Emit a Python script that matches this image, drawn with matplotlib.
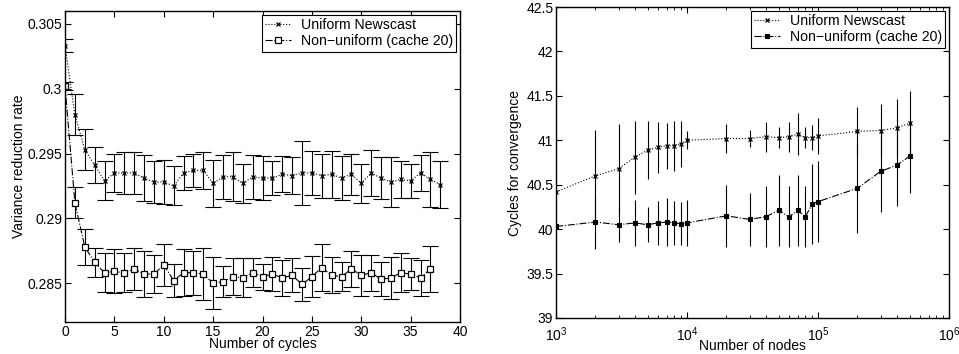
from matplotlib import pyplot as plt
from matplotlib.ticker import FixedLocator, FixedFormatter
import numpy as np

plt.rcParams['font.family'] = ['Liberation Sans', 'DejaVu Sans']
plt.rcParams['font.size'] = 10
plt.rcParams['xtick.direction'] = 'in'
plt.rcParams['ytick.direction'] = 'in'
plt.rcParams['xtick.top'] = True
plt.rcParams['ytick.right'] = True
plt.rcParams['axes.linewidth'] = 1.0

# left panel: variance reduction per cycle
cycles_u = np.arange(0, 39)
uniform_rate = [0.3033, 0.2980, 0.2953, 0.2941, 0.2929, 0.2935, 0.2935, 0.2935, 0.2931, 0.2928,
                0.2928, 0.2925, 0.2935, 0.2937, 0.2937, 0.2927, 0.2932, 0.2932, 0.2927, 0.2932,
                0.2931, 0.2931, 0.2934, 0.2933, 0.2935, 0.2935, 0.2933, 0.2934, 0.2931, 0.2934,
                0.2927, 0.2935, 0.2931, 0.2928, 0.2930, 0.2929, 0.2935, 0.2930, 0.2926]
uniform_err = [0.0005, 0.0016, 0.0016, 0.0014, 0.0015, 0.0015, 0.0016, 0.0016, 0.0018, 0.0016,
               0.0017, 0.0015, 0.0013, 0.0013, 0.0014, 0.0018, 0.0017, 0.0019, 0.0015, 0.0017,
               0.0017, 0.0013, 0.0014, 0.0014, 0.0025, 0.0017, 0.0017, 0.0018, 0.0017, 0.0016,
               0.0015, 0.0018, 0.0016, 0.0019, 0.0014, 0.0013, 0.0014, 0.0021, 0.0018]

cycles_n = np.arange(0, 38)
nonuni_rate = [0.3002, 0.2912, 0.2878, 0.2866, 0.2858, 0.2859, 0.2858, 0.2861, 0.2857, 0.2857,
               0.2864, 0.2852, 0.2858, 0.2858, 0.2857, 0.2850, 0.2851, 0.2855, 0.2854, 0.2858,
               0.2855, 0.2857, 0.2854, 0.2856, 0.2849, 0.2855, 0.2862, 0.2856, 0.2855, 0.2861,
               0.2856, 0.2858, 0.2853, 0.2854, 0.2858, 0.2857, 0.2854, 0.2861]
nonuni_err = [0.0003, 0.0012, 0.0014, 0.0011, 0.0015, 0.0017, 0.0015, 0.0016, 0.0018, 0.0015,
              0.0016, 0.0013, 0.0018, 0.0017, 0.0020, 0.0020, 0.0012, 0.0014, 0.0015, 0.0011,
              0.0010, 0.0013, 0.0014, 0.0013, 0.0013, 0.0016, 0.0018, 0.0014, 0.0011, 0.0014,
              0.0016, 0.0014, 0.0013, 0.0016, 0.0015, 0.0012, 0.0014, 0.0018]

# right panel: cycles for convergence vs network size
nodes = [1e3, 2e3, 3e3, 4e3, 5e3, 6e3, 7e3, 8e3, 9e3, 1e4,
         2e4, 3e4, 4e4, 5e4, 6e4, 7e4, 8e4, 9e4, 1e5,
         2e5, 3e5, 4e5, 5e5]
conv_uniform = [40.42, 40.60, 40.68, 40.81, 40.89, 40.92, 40.94, 40.94, 40.96, 41.00,
                41.02, 41.02, 41.04, 41.03, 41.04, 41.07, 41.03, 41.03, 41.05,
                41.10, 41.11, 41.14, 41.19]
conv_uniform_err = [0.0, 0.52, 0.50, 0.41, 0.33, 0.29, 0.26, 0.28, 0.26, 0.10,
                    0.16, 0.10, 0.17, 0.12, 0.17, 0.24, 0.12, 0.14, 0.20,
                    0.27, 0.30, 0.33, 0.37]
conv_nonuni = [40.03, 40.08, 40.05, 40.07, 40.05, 40.07, 40.08, 40.07, 40.06, 40.07,
               40.15, 40.11, 40.14, 40.21, 40.14, 40.21, 40.14, 40.28, 40.31,
               40.46, 40.65, 40.72, 40.82]
conv_nonuni_err = [0.0, 0.30, 0.20, 0.26, 0.20, 0.25, 0.27, 0.25, 0.24, 0.26,
                   0.35, 0.30, 0.34, 0.40, 0.34, 0.40, 0.34, 0.45, 0.46,
                   0.50, 0.46, 0.46, 0.41]

left_yticks = [0.285, 0.29, 0.295, 0.3, 0.305]
left_ylabels = ['0.285', '0.29', '0.295', '0.3', '0.305']
right_yticks = [39, 39.5, 40, 40.5, 41, 41.5, 42, 42.5]
right_ylabels = ['39', '39.5', '40', '40.5', '41', '41.5', '42', '42.5']

fig = plt.figure(figsize=(9.59, 3.54), dpi=100)
ax1 = fig.add_axes([0.0678, 0.0904, 0.4119, 0.8786])
ax2 = fig.add_axes([0.5798, 0.1017, 0.4098, 0.8785])

legend_kw = dict(loc='upper right', borderaxespad=0.25, handlelength=1.8, handletextpad=0.7,
                 fancybox=False, edgecolor='k', framealpha=1, borderpad=0.25,
                 labelspacing=0.15, fontsize=10.2)

# 左图
ax1.errorbar(cycles_u, uniform_rate, yerr=uniform_err, fmt='none', ecolor='k',
             elinewidth=0.8, capsize=5.5, capthick=0.8)
ax1.plot(cycles_u, uniform_rate, 'k:x', lw=0.8, ms=3.5, mew=0.9, label='Uniform Newscast')
ax1.errorbar(cycles_n, nonuni_rate, yerr=nonuni_err, fmt='none', ecolor='k',
             elinewidth=0.8, capsize=5.5, capthick=0.8)
ax1.plot(cycles_n, nonuni_rate, 'k-.s', lw=0.8, ms=3.8, mew=0.9, mfc='white',
         label='Non\u2212uniform (cache 20)')
ax1.set_xlim(0, 40)
ax1.set_ylim(0.282, 0.306)
ax1.set_xticks(np.arange(0, 41, 5))
ax1.yaxis.set_major_locator(FixedLocator(left_yticks))
ax1.yaxis.set_major_formatter(FixedFormatter(left_ylabels))
ax1.set_xlabel('Number of cycles', labelpad=-1)
ax1.set_ylabel('Variance reduction rate', labelpad=1)
ax1.tick_params(length=4, width=0.8, pad=2)
leg1 = ax1.legend(**legend_kw)
leg1.get_frame().set_linewidth(0.8)

# 右图
ax2.errorbar(nodes, conv_uniform, yerr=conv_uniform_err, fmt='none', ecolor='k',
             elinewidth=0.8, capsize=0)
ax2.plot(nodes, conv_uniform, 'k:x', lw=0.8, ms=3.5, mew=0.9, label='Uniform Newscast')
ax2.errorbar(nodes, conv_nonuni, yerr=conv_nonuni_err, fmt='none', ecolor='k',
             elinewidth=0.8, capsize=0)
ax2.plot(nodes, conv_nonuni, 'k-.s', lw=0.8, ms=3.5, mew=0.8, mfc='k',
         label='Non\u2212uniform (cache 20)')
ax2.set_xscale('log')
ax2.set_xlim(1e3, 1e6)
ax2.set_ylim(39, 42.5)
ax2.yaxis.set_major_locator(FixedLocator(right_yticks))
ax2.yaxis.set_major_formatter(FixedFormatter(right_ylabels))
ax2.set_xlabel('Number of nodes', labelpad=-3)
ax2.set_ylabel('Cycles for convergence', labelpad=3)
ax2.tick_params(which='major', length=4, width=0.8, pad=2)
ax2.tick_params(axis='x', which='major', pad=5)
ax2.tick_params(which='minor', length=2, width=0.6)
leg2 = ax2.legend(**legend_kw)
leg2.get_frame().set_linewidth(0.8)

fig.savefig('out.png', dpi=100)
